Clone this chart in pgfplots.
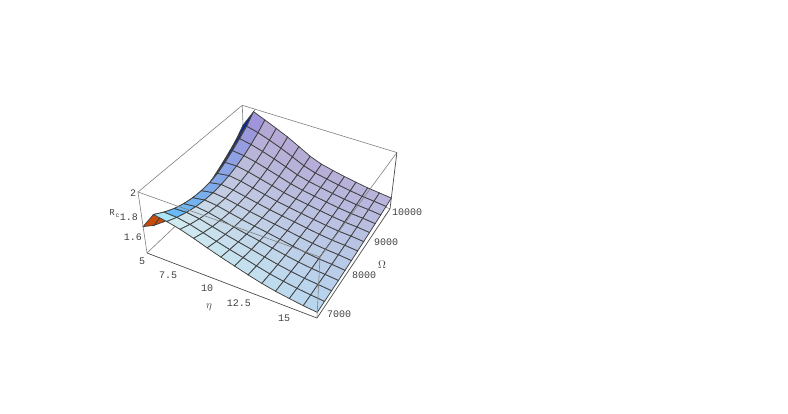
\documentclass[border=0pt]{standalone}
\usepackage{pgfplots}
\pgfplotsset{compat=1.18}
\usepackage{fontspec}
\setmainfont{Liberation Sans}
\newfontfamily\tickfont{Liberation Mono}
\newcommand\PD[3]{(1-0.069*(#1)+0.2*(#2)-0.0648*(#3))}
\newcommand\PX[3]{((147+148.1*(#1)+146*(#2)-17.94*(#3))/\PD{#1}{#2}{#3})}
\newcommand\PY[3]{(0-(253+43.1*(#1)-60*(#2)-73.44*(#3))/\PD{#1}{#2}{#3})}
\newcommand\UU{((\thisrow{eta}-5)/10)}
\newcommand\VV{((\thisrow{Om}-7000)/3000)}
\newcommand\WW{((\thisrow{R}-1.46)/0.54)}
\newcommand\rowA{(\thisrow{eta}<5.3)}
\newcommand\rowB{(\thisrow{eta}>5.3)*(\thisrow{eta}<6)}
\newcommand\rowC{(\thisrow{eta}>6)}
\newcommand\lowO{(\thisrow{Om}<8500)}
\newcommand\highO{(\thisrow{Om}>8400)}
\newcommand\firstO{(\thisrow{Om}<7100)}
\newcommand\restO{(\thisrow{Om}>7100)}
\begin{document}
\begin{tikzpicture}
\begin{axis}[
  scale only axis, width=788pt, height=414pt,
  xmin=0, xmax=788, ymin=-414, ymax=0,
  hide axis, clip=false,
]
% invisible frame of the page
\addplot[draw=none, forget plot] coordinates {(0,0) (788,-414)};
% back edges of the box
\addplot[gray, line width=0.6pt, forget plot] table[row sep=\\, x expr={\PX{\thisrow{u}}{\thisrow{v}}{\thisrow{w}}}, y expr={\PY{\thisrow{u}}{\thisrow{v}}{\thisrow{w}}}]
{u v w\\ 0 0 0\\ 0 1 0\\ 0 1 1\\};
\addplot[gray, line width=0.6pt, forget plot] table[row sep=\\, x expr={\PX{\thisrow{u}}{\thisrow{v}}{\thisrow{w}}}, y expr={\PY{\thisrow{u}}{\thisrow{v}}{\thisrow{w}}}]
{u v w\\ 0 1 0\\ 1 1 0\\};
\addplot[surf, shader=flat corner, draw=black!75, line width=0.75pt, mesh/rows=14, mesh/cols=13,
  mesh/color input=explicit mathparse,
  point meta={symbolic={
    (\rowA*(\lowO*200+\highO*10)+\rowB*(\firstO*170+\restO*(100+65*\VV))+\rowC*((212-30*\UU)*(1-\VV)+(176+10*\UU)*\VV))/255,
    (\rowA*(\lowO*75+\highO*40)+\rowB*(\firstO*228+\restO*(190-45*\VV))+\rowC*((238-26*\UU)*(1-\VV)+(160+20*\UU)*\VV))/255,
    (\rowA*(\lowO*10+\highO*150)+\rowB*(\firstO*245+\restO*(250-35*\VV))+\rowC*((240-2*\UU)*(1-\VV)+(208+12*\UU)*\VV))/255}},
] table[row sep=\\,
  x expr={\PX{\UU}{\VV}{\WW}},
  y expr={\PY{\UU}{\VV}{\WW}}]
{eta Om R\\
5 7000 1.703\\ 5 7250 1.633\\ 5 7500 1.588\\ 5 7750 1.556\\ 5 8000 1.536\\ 5 8250 1.528\\ 5 8500 1.532\\ 5 8750 1.548\\ 5 9000 1.585\\ 5 9250 1.630\\ 5 9500 1.680\\ 5 9750 1.736\\ 5 10000 1.813\\
5.769 7000 1.849\\ 5.769 7250 1.793\\ 5.769 7500 1.748\\ 5.769 7750 1.716\\ 5.769 8000 1.696\\ 5.769 8250 1.688\\ 5.769 8500 1.692\\ 5.769 8750 1.708\\ 5.769 9000 1.745\\ 5.769 9250 1.790\\ 5.769 9500 1.840\\ 5.769 9750 1.896\\ 5.769 10000 1.973\\
6.538 7000 1.830\\ 6.538 7250 1.787\\ 6.538 7500 1.754\\ 6.538 7750 1.729\\ 6.538 8000 1.714\\ 6.538 8250 1.708\\ 6.538 8500 1.712\\ 6.538 8750 1.725\\ 6.538 9000 1.747\\ 6.538 9250 1.778\\ 6.538 9500 1.819\\ 6.538 9750 1.869\\ 6.538 10000 1.928\\
7.308 7000 1.804\\ 7.308 7250 1.766\\ 7.308 7500 1.737\\ 7.308 7750 1.715\\ 7.308 8000 1.702\\ 7.308 8250 1.695\\ 7.308 8500 1.698\\ 7.308 8750 1.709\\ 7.308 9000 1.727\\ 7.308 9250 1.754\\ 7.308 9500 1.788\\ 7.308 9750 1.832\\ 7.308 10000 1.882\\
8.077 7000 1.767\\ 8.077 7250 1.734\\ 8.077 7500 1.708\\ 8.077 7750 1.690\\ 8.077 8000 1.677\\ 8.077 8250 1.673\\ 8.077 8500 1.675\\ 8.077 8750 1.684\\ 8.077 9000 1.700\\ 8.077 9250 1.723\\ 8.077 9500 1.753\\ 8.077 9750 1.790\\ 8.077 10000 1.834\\
8.846 7000 1.726\\ 8.846 7250 1.700\\ 8.846 7500 1.679\\ 8.846 7750 1.664\\ 8.846 8000 1.654\\ 8.846 8250 1.650\\ 8.846 8500 1.652\\ 8.846 8750 1.659\\ 8.846 9000 1.672\\ 8.846 9250 1.690\\ 8.846 9500 1.714\\ 8.846 9750 1.743\\ 8.846 10000 1.777\\
9.615 7000 1.688\\ 9.615 7250 1.669\\ 9.615 7500 1.653\\ 9.615 7750 1.641\\ 9.615 8000 1.634\\ 9.615 8250 1.631\\ 9.615 8500 1.631\\ 9.615 8750 1.635\\ 9.615 9000 1.644\\ 9.615 9250 1.657\\ 9.615 9500 1.673\\ 9.615 9750 1.693\\ 9.615 10000 1.718\\
10.385 7000 1.653\\ 10.385 7250 1.640\\ 10.385 7500 1.628\\ 10.385 7750 1.620\\ 10.385 8000 1.615\\ 10.385 8250 1.613\\ 10.385 8500 1.613\\ 10.385 8750 1.616\\ 10.385 9000 1.623\\ 10.385 9250 1.632\\ 10.385 9500 1.645\\ 10.385 9750 1.659\\ 10.385 10000 1.677\\
11.154 7000 1.618\\ 11.154 7250 1.609\\ 11.154 7500 1.602\\ 11.154 7750 1.597\\ 11.154 8000 1.595\\ 11.154 8250 1.594\\ 11.154 8500 1.596\\ 11.154 8750 1.599\\ 11.154 9000 1.606\\ 11.154 9250 1.614\\ 11.154 9500 1.625\\ 11.154 9750 1.637\\ 11.154 10000 1.652\\
11.923 7000 1.587\\ 11.923 7250 1.581\\ 11.923 7500 1.577\\ 11.923 7750 1.575\\ 11.923 8000 1.574\\ 11.923 8250 1.575\\ 11.923 8500 1.578\\ 11.923 8750 1.582\\ 11.923 9000 1.588\\ 11.923 9250 1.596\\ 11.923 9500 1.605\\ 11.923 9750 1.616\\ 11.923 10000 1.629\\
12.692 7000 1.562\\ 12.692 7250 1.559\\ 12.692 7500 1.557\\ 12.692 7750 1.555\\ 12.692 8000 1.556\\ 12.692 8250 1.558\\ 12.692 8500 1.561\\ 12.692 8750 1.566\\ 12.692 9000 1.572\\ 12.692 9250 1.579\\ 12.692 9500 1.588\\ 12.692 9750 1.598\\ 12.692 10000 1.610\\
13.462 7000 1.543\\ 13.462 7250 1.541\\ 13.462 7500 1.540\\ 13.462 7750 1.540\\ 13.462 8000 1.542\\ 13.462 8250 1.545\\ 13.462 8500 1.548\\ 13.462 8750 1.552\\ 13.462 9000 1.559\\ 13.462 9250 1.566\\ 13.462 9500 1.573\\ 13.462 9750 1.582\\ 13.462 10000 1.592\\
14.231 7000 1.526\\ 14.231 7250 1.527\\ 14.231 7500 1.529\\ 14.231 7750 1.530\\ 14.231 8000 1.534\\ 14.231 8250 1.537\\ 14.231 8500 1.541\\ 14.231 8750 1.546\\ 14.231 9000 1.552\\ 14.231 9250 1.558\\ 14.231 9500 1.565\\ 14.231 9750 1.572\\ 14.231 10000 1.580\\
15 7000 1.514\\ 15 7250 1.515\\ 15 7500 1.517\\ 15 7750 1.519\\ 15 8000 1.522\\ 15 8250 1.525\\ 15 8500 1.530\\ 15 8750 1.535\\ 15 9000 1.540\\ 15 9250 1.546\\ 15 9500 1.553\\ 15 9750 1.560\\ 15 10000 1.568\\
};
% front edges of the box, drawn over the surface
\addplot[gray, line width=0.6pt, forget plot] table[row sep=\\, x expr={\PX{\thisrow{u}}{\thisrow{v}}{\thisrow{w}}}, y expr={\PY{\thisrow{u}}{\thisrow{v}}{\thisrow{w}}}]
{u v w\\ 0 1 1\\ 0 0 1\\ 1 0 1\\ 1 1 1\\ 0 1 1\\};
\addplot[gray, line width=0.6pt, forget plot] table[row sep=\\, x expr={\PX{\thisrow{u}}{\thisrow{v}}{\thisrow{w}}}, y expr={\PY{\thisrow{u}}{\thisrow{v}}{\thisrow{w}}}]
{u v w\\ 0 0 1\\ 0 0 0\\};
\addplot[black!70, line width=0.7pt, forget plot] table[row sep=\\, x expr={\PX{\thisrow{u}}{\thisrow{v}}{\thisrow{w}}}, y expr={\PY{\thisrow{u}}{\thisrow{v}}{\thisrow{w}}}]
{u v w\\ 0 0 0\\ 1 0 0\\ 1 1 0\\ 1 1 1\\};
\addplot[gray, line width=0.6pt, forget plot] table[row sep=\\, x expr={\PX{\thisrow{u}}{\thisrow{v}}{\thisrow{w}}}, y expr={\PY{\thisrow{u}}{\thisrow{v}}{\thisrow{w}}}]
{u v w\\ 1 0 0\\ 1 0 1\\};
% labels
\def\tk#1#2#3{\node[font=\tickfont\fontsize{10}{11}\selectfont, text=black!75, inner sep=0pt] at (axis cs:#1,-#2) {#3};}
\tk{142}{261}{5}\tk{168}{275}{7.5}\tk{207}{288}{10}\tk{239}{303}{12.5}\tk{284}{318}{15}
\tk{339}{314}{7000}\tk{364}{275}{8000}\tk{386}{242}{9000}\tk{407}{212}{10000}
\tk{133}{193}{2}\tk{129}{217}{1.8}\tk{133}{237}{1.6}
\node[font=\fontsize{11}{12}\selectfont, text=black!75, inner sep=0pt] at (axis cs:209,-307) {$\eta$};
\node[font=\fontsize{10.5}{11}\selectfont, text=black!75, inner sep=0pt] at (axis cs:382,-265) {$\Omega$};
\node[font=\tickfont\fontsize{9}{10}\selectfont, text=black!75, inner sep=0pt] at (axis cs:112,-213) {R};
\node[font=\tickfont\fontsize{6.5}{7}\selectfont, text=black!75, inner sep=0pt] at (axis cs:117.5,-215.5) {c};
\end{axis}
\end{tikzpicture}
\end{document}
